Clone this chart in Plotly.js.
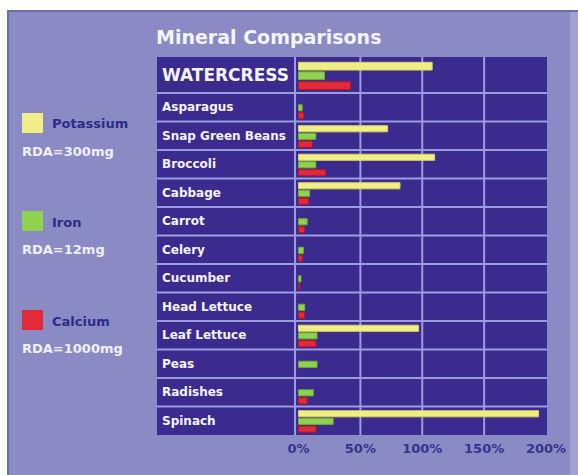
<!DOCTYPE html>
<html>
<head>
<meta charset="utf-8">
<script src="https://cdn.plot.ly/plotly-3.0.1.min.js"></script>
<style>html,body{margin:0;padding:0;background:#fff;}#chart{width:578px;height:475px;}</style>
</head>
<body>
<div id="chart"></div>
<script>
// ---- data (percent of RDA) ----
const categories = ['WATERCRESS','Asparagus','Snap Green Beans','Broccoli','Cabbage','Carrot','Celery','Cucumber','Head Lettuce','Leaf Lettuce','Peas','Radishes','Spinach'];
const potassium = [108, 0, 72, 110, 82, 0, 0, 0, 0, 97, 0, 0, 194];
const iron      = [21, 3, 14, 14, 9, 7, 4, 2, 5, 15, 15, 12, 28];
const calcium   = [42, 4, 11, 22, 8, 5, 3, 1, 5, 14, 0, 7, 14];
const seriesNames = ['Potassium', 'Iron', 'Calcium'];
const rdaLabels = ['RDA=300mg', 'RDA=12mg', 'RDA=1000mg'];
const tickValues = [0, 50, 100, 150, 200];
const tickLabels = ['0%', '50%', '100%', '150%', '200%'];

// ---- layout helpers ----
const W = 578, H = 475;
const L = 157, R = 547, T = 57, B = 435;
const px = x => (x - L) / (R - L);
const py = y => (B - y) / (B - T);
const dark = '#3b2b8e', lav = '#8a8ac4', sep = '#9c9ce0', navy = '#2c2c88';
const colors = ['#f0ee86', '#8ed24e', '#e22a3a'];
const lines = ['#d8d25a', '#6aae30', '#b81828'];

const rowH = categories.map((c, i) => i === 0 ? 1.263 : 1);
const tops = [];
let acc = 0;
rowH.forEach(h => { tops.push(acc); acc += h; });
const total = acc;
const centers = tops.map((t, i) => t + rowH[i] / 2);

const offs = [-0.265, 0.0, 0.275];
const series = [potassium, iron, calcium];
const traces = series.map((vals, k) => ({
  type: 'bar', orientation: 'h', name: seriesNames[k],
  x: vals.map(v => v > 0 ? v : null),
  y: centers.map((c, i) => c + 0.02 * rowH[i] + offs[k] * rowH[i]),
  width: rowH.map(h => 0.215 * h),
  marker: {color: colors[k], line: {color: lines[k], width: 1}},
  hoverinfo: 'skip', showlegend: false
}));

const xmin = -(298.5 - L) / 1.2375, xmax = 200 + (R - 546) / 1.2375;

const shapes = [];
// white border and frame
shapes.push({type:'rect', xref:'paper', yref:'paper', x0:px(0), x1:px(W), y0:py(0), y1:py(H), fillcolor:'#ffffff', line:{width:0}, layer:'below'});
shapes.push({type:'rect', xref:'paper', yref:'paper', x0:px(8), x1:px(W+5), y0:py(11), y1:py(H+5), fillcolor:lav, line:{color:'#6c6ca8', width:2}, layer:'below'});
shapes.push({type:'rect', xref:'paper', yref:'paper', x0:px(570), x1:px(W+5), y0:py(12), y1:py(H+5), fillcolor:'#a2a2d2', line:{width:0}, layer:'below'});
// plot panel background
shapes.push({type:'rect', xref:'paper', yref:'paper', x0:0, x1:1, y0:0, y1:1, fillcolor:dark, line:{width:0}, layer:'below'});
// grid lines
[50, 100, 150].forEach(v => shapes.push({type:'line', xref:'x', yref:'paper', x0:v, x1:v, y0:0, y1:1, line:{color:sep, width:2}, layer:'below'}));
// panel / plot separator
shapes.push({type:'line', xref:'x', yref:'paper', x0:-2.8, x1:-2.8, y0:0, y1:1, line:{color:sep, width:2}, layer:'below'});
// row separators
tops.slice(1).forEach(t => shapes.push({type:'line', xref:'paper', yref:'y', x0:0, x1:1, y0:t, y1:t, line:{color:sep, width:2}, layer:'below'}));

const annotations = categories.map((c, i) => ({
  xref:'paper', yref:'y', x:px(160), y:centers[i], xanchor:'left', yanchor:'middle',
  text:'<b>' + c + '</b>', showarrow:false,
  font:{family:'DejaVu Sans', size: i === 0 ? 17 : 12, color:'#f4f4ff'}
}));
// title
annotations.push({xref:'paper', yref:'paper', x:px(154), y:py(37), xanchor:'left', yanchor:'middle', showarrow:false,
  text:'<b>Mineral Comparisons</b>', font:{family:'DejaVu Sans', size:19, color:'#f4f4ff'}});

// legend
const legY = [123, 221, 320];
legY.forEach((yc, k) => {
  shapes.push({type:'rect', xref:'paper', yref:'paper', x0:px(22), x1:px(43), y0:py(yc - 10), y1:py(yc + 10), fillcolor:colors[k], line:{width:0}});
  annotations.push({xref:'paper', yref:'paper', x:px(50), y:py(yc + 1), xanchor:'left', yanchor:'middle', showarrow:false,
    text:'<b>' + seriesNames[k] + '</b>', font:{family:'DejaVu Sans', size:13, color:navy}});
  annotations.push({xref:'paper', yref:'paper', x:px(20), y:py(yc + 28), xanchor:'left', yanchor:'middle', showarrow:false,
    text:'<b>' + rdaLabels[k] + '</b>', font:{family:'DejaVu Sans', size:13, color:'#f0f0ff'}});
});

const layout = {
  width: W, height: H,
  margin: {l: L, r: W - R, t: T, b: H - B, pad: 0},
  paper_bgcolor: lav, plot_bgcolor: dark,
  barmode: 'overlay',
  showlegend: false,
  xaxis: {range: [xmin, xmax], tickvals: tickValues, ticktext: tickLabels.map(t => '<b>' + t + '</b>'),
    showgrid: false, zeroline: false, showline: false, ticks: 'outside', ticklen: 1, tickcolor: 'rgba(0,0,0,0)',
    tickfont: {family: 'DejaVu Sans', size: 13, color: '#34348e'}, fixedrange: true},
  yaxis: {range: [total, 0], showgrid: false, zeroline: false, showticklabels: false, ticks: '', fixedrange: true},
  shapes: shapes,
  annotations: annotations
};

Plotly.newPlot('chart', traces, layout, {staticPlot: true, displayModeBar: false});
</script>
</body>
</html>
